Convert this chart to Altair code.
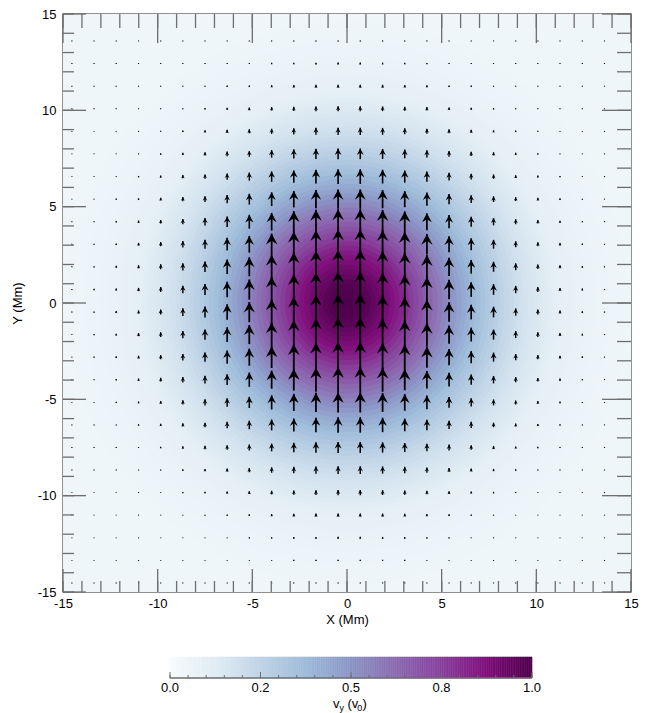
import numpy as np
import pandas as pd
import altair as alt

# ---------------- values ----------------
# arrow grid (Mm) – columns and rows of the vector plot
arrow_x = [-14.53, -13.36, -12.19, -11.01, -9.84, -8.67, -7.50, -6.33, -5.16, -3.98,
           -2.81, -1.64, -0.47, 0.70, 1.88, 3.05, 4.22, 5.39, 6.56, 7.74,
           8.91, 10.08, 11.25, 12.43, 13.60]
arrow_y = [-14.53, -13.36, -12.19, -11.01, -9.84, -8.67, -7.50, -6.33, -5.16, -3.98,
           -2.81, -1.64, -0.47, 0.70, 1.88, 3.05, 4.22, 5.39, 6.56, 7.74,
           8.91, 10.08, 11.25, 12.43, 13.60]
# v_y profile (v0) along the arrow columns and along the arrow rows
col_vy = [0.02, 0.035, 0.055, 0.09, 0.14, 0.21, 0.30, 0.42, 0.55, 0.70,
          0.84, 0.94, 0.99, 0.99, 0.93, 0.82, 0.68, 0.53, 0.40, 0.29,
          0.20, 0.135, 0.085, 0.05, 0.03]
row_vy = [0.02, 0.035, 0.055, 0.09, 0.14, 0.21, 0.30, 0.42, 0.55, 0.70,
          0.84, 0.94, 0.99, 0.99, 0.93, 0.82, 0.68, 0.53, 0.40, 0.29,
          0.20, 0.135, 0.085, 0.05, 0.03]
# colour-field contour levels: v_y (v0) inside each radius (Mm)
level_r = [0.25, 0.5, 0.75, 1.0, 1.25, 1.5, 1.75, 2.0, 2.25, 2.5,
           2.75, 3.0, 3.25, 3.5, 3.75, 4.0, 4.25, 4.5, 4.75, 5.0,
           5.25, 5.5, 5.75, 6.0, 6.25, 6.5, 6.75, 7.0, 7.25, 7.5,
           7.75, 8.0, 8.25, 8.5, 8.75, 9.0, 9.25, 9.5, 9.75, 10.0,
           10.25, 10.5, 10.75, 11.0, 11.25, 11.5, 11.75, 12.0, 12.25, 12.5,
           12.75, 13.0, 13.25, 13.5, 13.75, 14.0, 14.25, 14.5, 14.75, 15.0,
           16.0, 17.0, 18.0, 22.0]
level_vy = [1.00, 0.99, 0.99, 0.98, 0.97, 0.95, 0.93, 0.91, 0.89, 0.87,
            0.845, 0.82, 0.79, 0.76, 0.73, 0.70, 0.67, 0.64, 0.61, 0.58,
            0.55, 0.52, 0.49, 0.46, 0.435, 0.41, 0.385, 0.36, 0.335, 0.31,
            0.29, 0.27, 0.25, 0.23, 0.215, 0.20, 0.185, 0.17, 0.16, 0.15,
            0.14, 0.13, 0.12, 0.11, 0.10, 0.095, 0.09, 0.085, 0.08, 0.075,
            0.072, 0.068, 0.065, 0.062, 0.06, 0.057, 0.055, 0.053, 0.051, 0.050,
            0.049, 0.048, 0.047, 0.046]

axis_major = [-15, -10, -5, 0, 5, 10, 15]
axis_minor = list(range(-15, 16))
cbar_major = [0.0, 0.25, 0.5, 0.75, 1.0]
cbar_labels = ["0.0", "0.2", "0.5", "0.8", "1.0"]
cbar_minor = [round(0.05 * i, 2) for i in range(21)]

bupu = ['#f7fcfd', '#e0ecf4', '#bfd3e6', '#9ebcda', '#8c96c6',
        '#8c6bb1', '#88419d', '#810f7c', '#4d004b']

# ---------------- layout / style ----------------
W, H = 568, 578
FONT = "Liberation Sans"
GREY = "#6e6e6e"
ARROW_SCALE = 1.92        # Mm of arrow per v0
PX_PER_MM_Y = H / 30.0
PX_PER_MM = (W + H) / 60.0
MIN_DOT = 0.9             # px, so that near-zero arrows still leave a faint dot

# ---------------- tables ----------------
level_df = pd.DataFrame({"cx": 0.0, "cy": 0.0, "r": level_r, "v": level_vy})

rows = []
for i, xv in enumerate(arrow_x):
    for j, yv in enumerate(arrow_y):
        v = col_vy[i] * row_vy[j]
        Lpx = v * ARROW_SCALE * PX_PER_MM_Y
        L = max(v * ARROW_SCALE, MIN_DOT / PX_PER_MM_Y)
        hw = min(0.45 * Lpx + min(0.7 * Lpx, 2.0), 11.5)
        sw = 1.2 + 0.6 * min(Lpx / 20.0, 1.0)
        rows.append({"x": xv, "yb": yv - L / 2, "yt": yv + L / 2, "v": v,
                     "hs": (2 * hw) ** 2, "sw": sw})
arrow_df = pd.DataFrame(rows)

xs = alt.Scale(domain=[-15, 15], nice=False, zero=False)
ys = alt.Scale(domain=[-15, 15], nice=False, zero=False)
cscale = alt.Scale(domain=[i / 8 for i in range(9)], range=bupu, interpolate="rgb")
rmax = max(level_r)
# Vega draws a circle of radius sqrt(size)/2, so size = (2 * radius_px)^2
rscale = alt.Scale(type="pow", exponent=2, domain=[0, rmax],
                   range=[0, float((2 * rmax * PX_PER_MM) ** 2)])

ax_x = alt.Axis(values=axis_major, ticks=False, domain=False, grid=False,
                labelExpr="datum.value + ''", labelFlush=False, labelFontSize=13,
                labelColor="black", labelPadding=5, title="X (Mm)", titleFontSize=13,
                titleFontWeight="normal", titleColor="black", titlePadding=3)
ax_y = alt.Axis(values=axis_major, ticks=False, domain=False, grid=False,
                labelExpr="datum.value + ''", labelFlush=False, labelFontSize=13,
                labelColor="black", labelPadding=7, title="Y (Mm)", titleFontSize=13,
                titleFontWeight="normal", titleColor="black", titlePadding=13)

heat = alt.Chart(level_df).mark_point(shape="circle", filled=True, opacity=1,
                                      strokeWidth=0, clip=True).encode(
    x=alt.X("cx:Q", scale=xs, axis=ax_x),
    y=alt.Y("cy:Q", scale=ys, axis=ax_y),
    size=alt.Size("r:Q", scale=rscale, legend=None),
    color=alt.Color("v:Q", scale=cscale, legend=None),
    order=alt.Order("r:Q", sort="descending"),
)

shafts = alt.Chart(arrow_df).mark_rule(color="black", strokeCap="butt").encode(
    x=alt.X("x:Q", scale=xs, axis=ax_x),
    y=alt.Y("yb:Q", scale=ys, axis=ax_y),
    y2="yt:Q",
    strokeWidth=alt.StrokeWidth("sw:Q", scale=None, legend=None),
)
heads = alt.Chart(arrow_df).mark_point(
    shape="M0,0L0.5,0.95L0,0.62L-0.5,0.95Z", filled=True, color="black", opacity=1,
    strokeWidth=0,
).encode(
    x=alt.X("x:Q", scale=xs, axis=ax_x),
    y=alt.Y("yt:Q", scale=ys, axis=ax_y),
    size=alt.Size("hs:Q", scale=None, legend=None),
)

minor_df = pd.DataFrame({"t": axis_minor})
major_df = pd.DataFrame({"t": axis_major})


def xticks(df, y_a, y_b):
    return alt.Chart(df).mark_rule(color=GREY, strokeWidth=1.3).encode(
        x=alt.X("t:Q", scale=xs, axis=ax_x), y=alt.value(y_a), y2=alt.value(y_b))


def yticks(df, x_a, x_b):
    return alt.Chart(df).mark_rule(color=GREY, strokeWidth=1.3).encode(
        y=alt.Y("t:Q", scale=ys, axis=ax_y), x=alt.value(x_a), x2=alt.value(x_b))


tick_layers = [
    xticks(minor_df, H, H - 11), xticks(major_df, H, H - 23),
    xticks(minor_df, 0, 14), xticks(major_df, 0, 29),
    yticks(minor_df, 0, 11), yticks(major_df, 0, 23),
    yticks(minor_df, W, W - 14), yticks(major_df, W, W - 29),
]

main = alt.layer(heat, shafts, heads, *tick_layers)

# ---------------- colour bar ----------------
edges = np.linspace(0, 1, 201)
cb_df = pd.DataFrame({"a": edges[:-1], "b": edges[1:], "v": (edges[:-1] + edges[1:]) / 2})
cbx = alt.Scale(domain=[0, 1], range=[107, 469], nice=False, zero=False)
CB_TOP, CB_BOT = 643, 664

cb_rect = alt.Chart(cb_df).mark_rect(strokeWidth=0.6).encode(
    x=alt.X("a:Q", scale=cbx, axis=None), x2="b:Q",
    y=alt.value(CB_TOP), y2=alt.value(CB_BOT),
    color=alt.Color("v:Q", scale=cscale, legend=None),
    stroke=alt.Stroke("v:Q", scale=cscale, legend=None),
)
cb_line = alt.Chart(pd.DataFrame({"a": [0.0], "b": [1.0]})).mark_rule(color=GREY, strokeWidth=1.3).encode(
    x=alt.X("a:Q", scale=cbx, axis=None), x2="b:Q", y=alt.value(CB_BOT))
cb_minor = alt.Chart(pd.DataFrame({"t": cbar_minor})).mark_rule(color=GREY, strokeWidth=1).encode(
    x=alt.X("t:Q", scale=cbx, axis=None), y=alt.value(CB_BOT), y2=alt.value(CB_BOT - 3))
cb_major = alt.Chart(pd.DataFrame({"t": cbar_major})).mark_rule(color=GREY, strokeWidth=1).encode(
    x=alt.X("t:Q", scale=cbx, axis=None), y=alt.value(CB_BOT), y2=alt.value(CB_BOT - 6))
cb_text = alt.Chart(pd.DataFrame({"t": cbar_major, "lab": cbar_labels})).mark_text(
    font=FONT, fontSize=13, color="black", baseline="alphabetic", align="center").encode(
    x=alt.X("t:Q", scale=cbx, axis=None), y=alt.value(678), text="lab:N")

title_parts = pd.DataFrame({
    "txt": ["v", "y", "(v", "0", ")"],
    "dx": [0.0, 6.6, 14.5, 24.2, 29.6],
    "dy": [0.0, 3.0, 0.0, 3.0, 0.0],
    "fs": [13, 9, 13, 9, 13],
})
TX0, TY0 = 270, 694
cb_title = [
    alt.Chart(title_parts.iloc[[k]]).mark_text(
        font=FONT, fontSize=float(title_parts.fs[k]), color="black",
        baseline="alphabetic", align="left").encode(
        x=alt.value(TX0 + float(title_parts.dx[k])),
        y=alt.value(TY0 + float(title_parts.dy[k])), text="txt:N")
    for k in range(len(title_parts))
]

cbar = alt.layer(cb_rect, cb_line, cb_minor, cb_major, cb_text, *cb_title)

chart = alt.layer(main, cbar).resolve_scale(x="independent").properties(
    width=W, height=H, padding={"left": 3, "top": 0, "right": 5, "bottom": 0}
).configure_view(stroke=GREY, strokeWidth=1.5).configure_axis(
    labelFont=FONT, titleFont=FONT
).configure_text(font=FONT)

chart.save("out.html", embed_options={"renderer": "svg", "actions": False})
